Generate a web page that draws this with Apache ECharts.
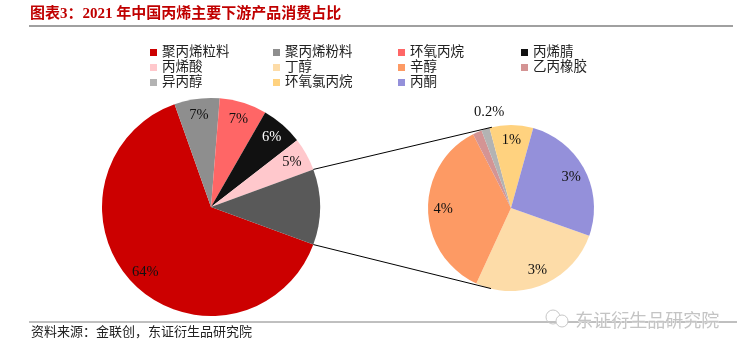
<!DOCTYPE html>
<html>
<head>
<meta charset="utf-8">
<script src="https://cdn.jsdelivr.net/npm/echarts@6/dist/echarts.min.js"></script>
<style>
html,body{margin:0;padding:0;background:#fff;}
#c{width:753px;height:342px;}
</style>
</head>
<body>
<div id="c"></div>
<script>
// ---- data ----
const titleText = '图表3：2021 年中国丙烯主要下游产品消费占比';
const sourceText = '资料来源：金联创，东证衍生品研究院';
const watermarkText = '东证衍生品研究院';

const mainNames = ['聚丙烯粒料', '聚丙烯粉料', '环氧丙烷', '丙烯腈', '丙烯酸', '其他'];
const mainValuesKnown = [63.9, 6.7, 7.0, 6.2, 4.9];
const mainLabels = ['64%', '7%', '7%', '6%', '5%', ''];

const subNames = ['丁醇', '辛醇', '乙丙橡胶', '异丙醇', '环氧氯丙烷', '丙酮'];
const subValues = [2.96, 3.98, 0.2, 0.18, 0.95, 2.92];
const subLabels = ['3%', '4%', '', '0.2%', '1%', '3%'];

const legendColumns = [
  ['聚丙烯粒料', '丙烯酸', '异丙醇'],
  ['聚丙烯粉料', '丁醇', '环氧氯丙烷'],
  ['环氧丙烷', '辛醇', '丙酮'],
  ['丙烯腈', '乙丙橡胶']
];

// ---- styles ----
const mainColors = ['#CC0000', '#8E8E8E', '#FF6666', '#111111', '#FFC8CC', '#595959'];
const mainLabelColors = ['#111', '#111', '#111', '#fff', '#111', '#111'];
const subColors = ['#FDDCA8', '#FD9A64', '#D49494', '#B3B3B3', '#FFD27F', '#9490DA'];

const otherValue = subValues.reduce((a, b) => a + b, 0);
const mainValues = mainValuesKnown.concat([otherValue]);
const mainTotal = mainValues.reduce((a, b) => a + b, 0);
const otherDeg = otherValue / mainTotal * 360;

const MC = [211, 207], MR = 109;
const SC = [511, 208], SR = 83;
const mainStart = -otherDeg / 2;
const subStart = -19.5;

const serif = '"Liberation Serif", "Noto Sans CJK SC", serif';
const cjk = '"Liberation Serif", "Noto Sans CJK SC", serif';

const chart = echarts.init(document.getElementById('c'), null, {renderer: 'canvas'});

function tangentPoint(P, C, r, upper) {
  const dx = P[0] - C[0], dy = P[1] - C[1];
  const d = Math.sqrt(dx * dx + dy * dy);
  const phi = Math.atan2(dy, dx);
  const off = Math.acos(r / d);
  const a1 = phi + off, a2 = phi - off;
  const t1 = [C[0] + r * Math.cos(a1), C[1] + r * Math.sin(a1)];
  const t2 = [C[0] + r * Math.cos(a2), C[1] + r * Math.sin(a2)];
  if (upper) return t1[1] < t2[1] ? t1 : t2;
  return t1[1] > t2[1] ? t1 : t2;
}
const aTop = (mainStart + otherDeg) * Math.PI / 180;
const aBot = mainStart * Math.PI / 180;
const pTop = [MC[0] + MR * Math.cos(aTop), MC[1] - MR * Math.sin(aTop)];
const pBot = [MC[0] + MR * Math.cos(aBot), MC[1] - MR * Math.sin(aBot)];
const tTop = tangentPoint(pTop, SC, SR, true);
const tBot = tangentPoint(pBot, SC, SR, false);

const legends = legendColumns.map((col, i) => ({
  orient: 'vertical',
  left: [145, 268, 393, 516][i],
  top: 40,
  data: col,
  icon: 'rect',
  itemWidth: 7,
  itemHeight: 7,
  itemGap: 0,
  selectedMode: false,
  textStyle: {fontFamily: cjk, fontSize: 13.5, color: '#222', lineHeight: 15, padding: [0, 0, 0, 0]}
}));

const mainData = mainNames.map((n, i) => ({name: n, value: mainValues[i], itemStyle: {color: mainColors[i]}}));
const subData = subNames.map((n, i) => ({name: n, value: subValues[i], itemStyle: {color: subColors[i]}}));

const option = {
  animation: false,
  backgroundColor: '#fff',
  legend: legends,
  series: [
    {
      type: 'pie', center: MC, radius: [0, MR], startAngle: mainStart, clockwise: true,
      data: mainData, label: {show: false}, labelLine: {show: false},
      itemStyle: {borderWidth: 0}, emphasis: {disabled: true}, silent: true
    },
    {
      type: 'pie', center: SC, radius: [0, SR], startAngle: subStart, clockwise: true,
      data: subData, label: {show: false}, labelLine: {show: false},
      itemStyle: {borderWidth: 0}, emphasis: {disabled: true}, silent: true
    },
    {
      type: 'pie', center: MC, radius: [MR * 0.64, MR], startAngle: mainStart, clockwise: true,
      data: mainNames.map((n, i) => ({name: n, value: mainValues[i],
        label: {color: mainLabelColors[i]}})),
      itemStyle: {color: 'rgba(0,0,0,0)'}, emphasis: {disabled: true}, silent: true,
      label: {show: true, position: 'inside', fontFamily: serif, fontSize: 14.5,
        formatter: p => mainLabels[p.dataIndex]},
      labelLine: {show: false}
    },
    {
      type: 'pie', center: SC, radius: [SR * 0.56, SR], startAngle: subStart, clockwise: true,
      data: subNames.map((n, i) => ({name: n, value: subValues[i]})),
      itemStyle: {color: 'rgba(0,0,0,0)'}, emphasis: {disabled: true}, silent: true,
      label: {show: true, position: 'inside', fontFamily: serif, fontSize: 14.5, color: '#111',
        formatter: p => subLabels[p.dataIndex]},
      labelLine: {show: false},
      labelLayout: p => (subLabels[p.dataIndex] === '0.2%' ? {dx: -1, dy: -31} : {})
    }
  ],
  graphic: [
    {type: 'text', left: 30, top: 7, style: {text: titleText, fill: '#C00000', font: 'bold 15px ' + serif}},
    {type: 'line', shape: {x1: 29, y1: 26, x2: 733, y2: 26}, style: {stroke: '#808080', lineWidth: 1.5}},
    {type: 'line', shape: {x1: 29, y1: 322, x2: 737, y2: 322}, style: {stroke: '#808080', lineWidth: 1}},
    {type: 'text', left: 31, top: 326, style: {text: sourceText, fill: '#222', font: '13px ' + cjk}},
    {type: 'line', shape: {x1: pTop[0], y1: pTop[1], x2: tTop[0], y2: tTop[1]}, style: {stroke: '#000', lineWidth: 1}, z: 10},
    {type: 'line', shape: {x1: pBot[0], y1: pBot[1], x2: tBot[0], y2: tBot[1]}, style: {stroke: '#000', lineWidth: 1}, z: 10},
    {type: 'text', left: 575, top: 311, style: {text: watermarkText, fill: '#c4c4c4', font: '18px "Noto Sans CJK SC", sans-serif', stroke: '#fff', lineWidth: 0.5}, z: 20},
    {type: 'circle', shape: {cx: 553, cy: 317, r: 7}, style: {fill: 'none', stroke: '#c8c8c8', lineWidth: 1}, z: 20},
    {type: 'circle', shape: {cx: 562, cy: 321, r: 6}, style: {fill: '#fff', stroke: '#c8c8c8', lineWidth: 1}, z: 21}
  ]
};
chart.setOption(option);
</script>
</body>
</html>
